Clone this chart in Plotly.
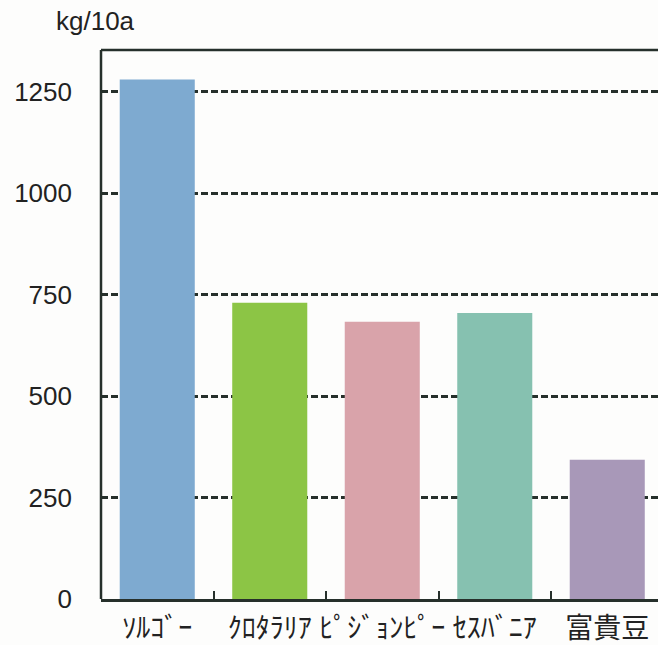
import plotly.graph_objects as go

# Yield per 10a for each crop
crops = ["ｿﾙｺﾞｰ", "ｸﾛﾀﾗﾘｱ", "ﾋﾟｼﾞｮﾝﾋﾟｰ", "ｾｽﾊﾞﾆｱ", "富貴豆"]
yields = [1280, 730, 683, 705, 343]
bar_colors = ["#7eaad0", "#8cc545", "#d9a3aa", "#86c1b0", "#a898b8"]
y_ticks = [0, 250, 500, 750, 1000, 1250]

ink = "#26302b"

fig = go.Figure()
fig.add_trace(go.Bar(
    x=crops,
    y=yields,
    marker=dict(color=bar_colors, line=dict(width=0)),
    width=0.667,
))

# open-right frame: top edge and left edge of the plot box
frame = [
    dict(type="line", xref="paper", yref="paper", x0=0, x1=1, y0=1, y1=1,
         line=dict(color=ink, width=2.5), layer="above"),
    dict(type="line", xref="paper", yref="paper", x0=0, x1=0, y0=0, y1=1,
         line=dict(color=ink, width=2.5), layer="above"),
]

fig.update_layout(
    width=658,
    height=645,
    margin=dict(l=101, r=0, t=50, b=46, autoexpand=False),
    paper_bgcolor="#fdfdfc",
    plot_bgcolor="#fdfdfc",
    showlegend=False,
    font=dict(family="Liberation Sans, Arial, sans-serif", color="#222222"),
    annotations=[dict(
        text="kg/10a", xref="paper", yref="paper", x=-0.01, y=1.0,
        xanchor="center", yanchor="bottom", yshift=12, showarrow=False,
        font=dict(size=26, color="#222222", family="Liberation Sans, Arial, sans-serif"),
    )],
    shapes=frame,
)

fig.update_xaxes(
    range=[-0.5, 4.451],
    automargin=False,
    tickangle=0,
    showline=True, linecolor=ink, linewidth=2.5, mirror=False,
    ticks="inside", ticklen=8, tickwidth=2, tickcolor=ink,
    tickson="boundaries",
    showgrid=False, zeroline=False,
    ticklabelstandoff=3,
    tickfont=dict(size=28, family="Noto Sans CJK JP", color="#222222"),
)

fig.update_yaxes(
    range=[0, 1353],
    automargin=False,
    tickvals=y_ticks,
    showline=False,
    ticks="inside", ticklen=7, tickwidth=2.5, tickcolor=ink,
    ticklabelstandoff=28,
    showgrid=True, gridcolor=ink, gridwidth=3, griddash="7px,3px",
    zeroline=False,
    tickfont=dict(size=26, color="#222222"),
)

fig.write_html("out.html", config={"displayModeBar": False})
